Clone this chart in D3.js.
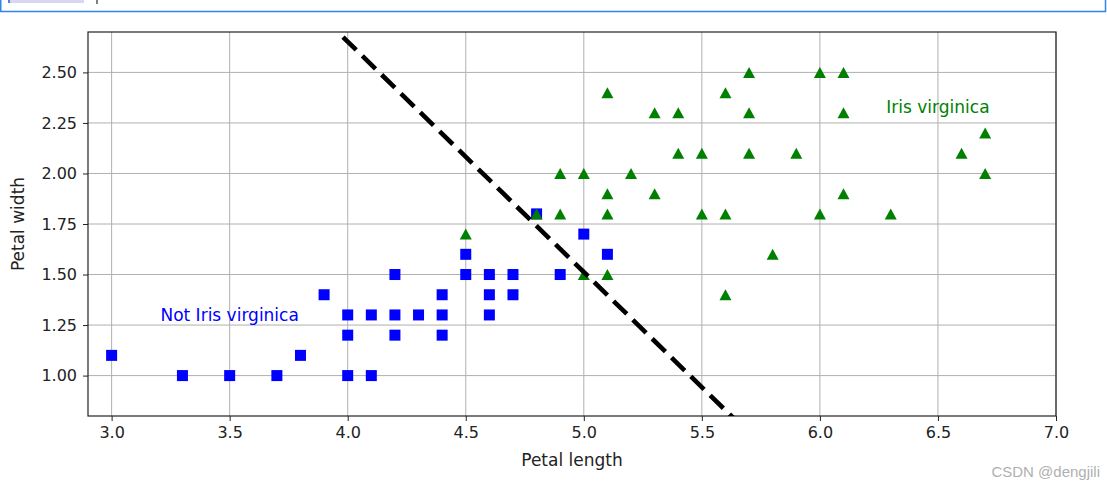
<!DOCTYPE html>
<html>
<head>
<meta charset="utf-8">
<script src="https://cdn.jsdelivr.net/npm/d3@7"></script>
<style>
  html, body { margin: 0; padding: 0; background: #fff; }
  svg { display: block; font-family: "DejaVu Sans", sans-serif; }
</style>
</head>
<body>
<svg id="chart" width="1107" height="489"></svg>
<script>
// ---- data ----
const notVirginicaLength = [3.0,3.3,3.5,3.7,3.8,3.9,4.0,4.0,4.0,4.1,4.1,4.2,4.2,4.2,4.3,4.4,4.4,4.4,4.5,4.5,4.6,4.6,4.6,4.7,4.7,4.8,4.9,5.0,5.1];
const notVirginicaWidth  = [1.1,1.0,1.0,1.0,1.1,1.4,1.3,1.2,1.0,1.3,1.0,1.5,1.3,1.2,1.3,1.4,1.3,1.2,1.6,1.5,1.5,1.4,1.3,1.5,1.4,1.8,1.5,1.7,1.6];
const virginicaLength = [4.5,4.8,4.9,4.9,5.0,5.0,5.1,5.1,5.1,5.1,5.2,5.3,5.3,5.4,5.4,5.5,5.5,5.6,5.6,5.6,5.7,5.7,5.7,5.8,5.9,6.0,6.0,6.1,6.1,6.1,6.3,6.6,6.7,6.7];
const virginicaWidth  = [1.7,1.8,1.8,2.0,2.0,1.5,1.9,1.8,1.5,2.4,2.0,1.9,2.3,2.1,2.3,2.1,1.8,2.4,1.8,1.4,2.5,2.3,2.1,1.6,2.1,2.5,1.8,2.5,2.3,1.9,1.8,2.1,2.2,2.0];
const boundaryLength = [3.98, 5.66];
const boundaryWidth  = [2.675, 0.76];
const xTicks = [3.0,3.5,4.0,4.5,5.0,5.5,6.0,6.5,7.0];
const yTicks = [1.00,1.25,1.50,1.75,2.00,2.25,2.50];
const xDomain = [2.9, 7.0];
const yDomain = [0.8, 2.7];
const labels = [
  {text: "Not Iris virginica", x: 3.5, y: 1.27, color: "#0000ff"},
  {text: "Iris virginica", x: 6.5, y: 2.30, color: "#008000"}
];

// ---- layout ----
const svg = d3.select("#chart");
const W = 1107, H = 489;
const m = {left: 88, top: 32, right: 51, bottom: 73};
const iw = W - m.left - m.right, ih = H - m.top - m.bottom;

// top widget remnant (notebook frame)
svg.append("rect").attr("x", 8).attr("y", -2).attr("width", 76).attr("height", 5).attr("fill", "#d7d7f3");
svg.append("line").attr("x1", 9).attr("x2", 9).attr("y1", 0).attr("y2", 3).attr("stroke", "#3b5bd6").attr("stroke-width", 1.5);
svg.append("line").attr("x1", 97).attr("x2", 97).attr("y1", 0).attr("y2", 4).attr("stroke", "#000").attr("stroke-width", 1);
svg.append("path").attr("d", `M0.75,0 V11.5 H1105.5 V0`).attr("fill", "none").attr("stroke", "#2f86e8").attr("stroke-width", 1.5);

const x = d3.scaleLinear().domain(xDomain).range([0, iw]);
const y = d3.scaleLinear().domain(yDomain).range([ih, 0]);

const g = svg.append("g").attr("transform", `translate(${m.left},${m.top})`);

g.append("clipPath").attr("id", "clip").append("rect").attr("width", iw).attr("height", ih);

// grid
g.append("g").selectAll("line").data(xTicks).join("line")
  .attr("x1", d => x(d)).attr("x2", d => x(d)).attr("y1", 0).attr("y2", ih)
  .attr("stroke", "#b0b0b0").attr("stroke-width", 1);
g.append("g").selectAll("line").data(yTicks).join("line")
  .attr("y1", d => y(d)).attr("y2", d => y(d)).attr("x1", 0).attr("x2", iw)
  .attr("stroke", "#b0b0b0").attr("stroke-width", 1);

// axes
const xAxis = g.append("g").attr("transform", `translate(0,${ih})`)
  .call(d3.axisBottom(x).tickValues(xTicks).tickFormat(d3.format(".1f")).tickSize(5).tickPadding(6));
const yAxis = g.append("g")
  .call(d3.axisLeft(y).tickValues(yTicks).tickFormat(d3.format(".2f")).tickSize(5).tickPadding(6));
[xAxis, yAxis].forEach(a => {
  a.select(".domain").remove();
  a.selectAll("text").attr("font-size", 16).attr("fill", "#222").attr("font-family", "DejaVu Sans");
  a.selectAll("line").attr("stroke", "#222");
});

// spines
g.append("rect").attr("x", 0).attr("y", 0).attr("width", iw).attr("height", ih)
  .attr("fill", "none").attr("stroke", "#222").attr("stroke-width", 1.2);

const plot = g.append("g").attr("clip-path", "url(#clip)");

// blue squares
const sq = 11;
plot.append("g").selectAll("rect").data(d3.range(notVirginicaLength.length)).join("rect")
  .attr("x", i => x(notVirginicaLength[i]) - sq / 2)
  .attr("y", i => y(notVirginicaWidth[i]) - sq / 2)
  .attr("width", sq).attr("height", sq).attr("fill", "#0000ff");

// green triangles
const tw = 12, th = 11;
plot.append("g").selectAll("path").data(d3.range(virginicaLength.length)).join("path")
  .attr("transform", i => `translate(${x(virginicaLength[i])},${y(virginicaWidth[i])})`)
  .attr("d", `M0,${-th/2} L${tw/2},${th/2} L${-tw/2},${th/2} Z`)
  .attr("fill", "#008000");

// decision boundary
plot.append("path")
  .datum(d3.range(boundaryLength.length))
  .attr("d", d3.line().x(i => x(boundaryLength[i])).y(i => y(boundaryWidth[i])))
  .attr("fill", "none").attr("stroke", "#000").attr("stroke-width", 4.6)
  .attr("stroke-dasharray", "18.5,8.5");

// annotations
g.append("g").selectAll("text").data(labels).join("text")
  .attr("x", d => x(d.x)).attr("y", d => y(d.y))
  .attr("text-anchor", "middle").attr("font-size", 17).attr("fill", d => d.color)
  .text(d => d.text);

// axis labels
svg.append("text").attr("x", m.left + x(4.95)).attr("y", 466).attr("text-anchor", "middle")
  .attr("font-size", 17).attr("fill", "#222").text("Petal length");
svg.append("text").attr("transform", `translate(24,${m.top + y(1.75)}) rotate(-90)`).attr("text-anchor", "middle")
  .attr("font-size", 17).attr("fill", "#222").text("Petal width");

// watermark
svg.append("text").attr("x", 1100).attr("y", 477).attr("text-anchor", "end")
  .attr("font-size", 15).attr("fill", "#b0b0b0").attr("font-family", "Liberation Sans, Arial, sans-serif").text("CSDN @dengjili");
</script>
</body>
</html>
